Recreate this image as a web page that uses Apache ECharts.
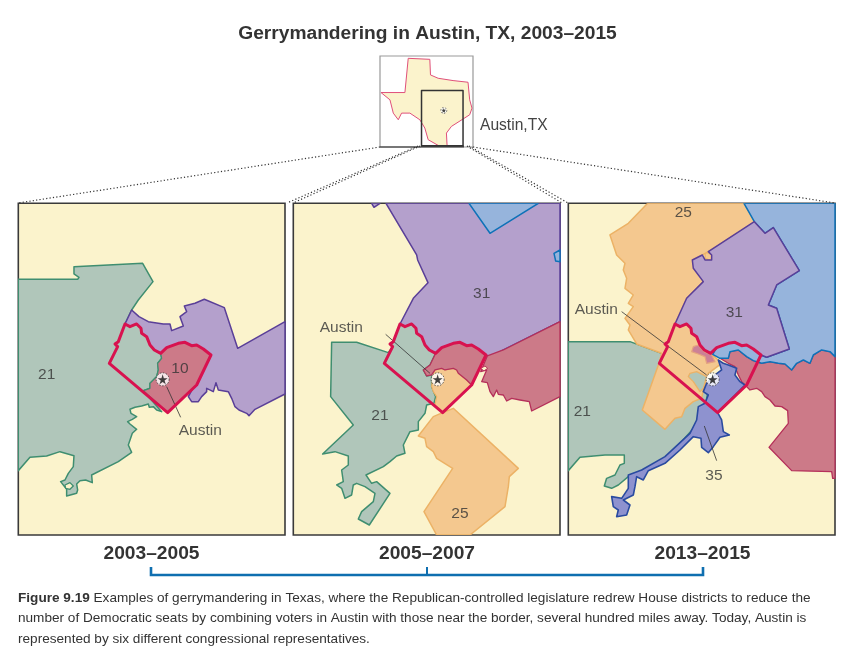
<!DOCTYPE html>
<html><head><meta charset="utf-8">
<style>html,body{margin:0;padding:0;background:#fff}#c{width:842px;height:656px}</style>
<script src="https://cdn.jsdelivr.net/npm/echarts@6/dist/echarts.min.js"></script>
</head><body><div id="c"></div>
<script>
// Shared Austin (Travis County) outline
const austinNorthEdge=[[330,372],[345,380],[365,372],[378,385],[380,400],[395,410],[405,435],[418,450],[437,460]];
const austinNorthEast=[[455,443],[490,430],[510,427],[530,437],[545,435],[565,447],[588,465]];
const austinSouth=[[545,555],[458,638],[283,490],[308,440],[300,432],[310,425]];
const austinOutline=[...austinNorthEdge,...austinNorthEast,...austinSouth];
const rev=a=>a.slice().reverse();

// Panel 1: 2003-2005
const p1d21=[[10,238],[188,238],[192,232],[177,222],[177,200],[383,190],[414,245],[370,300],[350,330],...austinNorthEdge,[440,475],[428,490],[430,510],[425,530],[405,550],[405,565],[385,572],[440,635],[425,630],[415,620],[403,622],[400,612],[380,618],[360,622],[345,628],[348,640],[365,650],[352,658],[338,665],[345,672],[365,688],[352,700],[340,735],[350,757],[310,785],[230,825],[232,848],[212,840],[195,842],[185,852],[188,870],[185,880],[155,888],[155,868],[137,845],[150,840],[160,820],[175,800],[177,767],[135,755],[95,768],[45,772],[10,812]];
const p1d10purple=[[350,330],[372,350],[400,365],[445,372],[465,372],[470,392],[505,378],[495,350],[515,335],[508,318],[540,310],[568,298],[628,323],[668,445],[810,365],[810,582],[720,628],[702,647],[695,640],[672,630],[660,620],[650,595],[640,575],[610,570],[603,548],[595,575],[575,565],[575,575],[560,590],[550,605],[530,605],[520,590],[588,465],...rev(austinNorthEast),...rev(austinNorthEdge)];
const p1d10=[[437,460],...austinNorthEast,[545,555],[458,638],[385,572],[405,565],[405,550],[425,530],[430,510],[428,490],[440,475]];
const p1hole=[[150,855],[165,848],[175,858],[165,868],[152,865]];

// Panel 2: 2005-2007
const p2d31=[[288,10],[810,10],[810,365],[640,450],[600,472],[588,465],...rev(austinNorthEast),...rev(austinNorthEdge),[370,295],[414,248],[383,180],[380,165]];
const p2d31b=[[245,10],[270,10],[252,22]];
const p2blue=[[537,10],[745,10],[600,100]];
const p2blue2=[[810,150],[792,160],[797,183],[810,185]];
const p2red=[[592,468],[640,450],[810,365],[810,590],[725,633],[718,605],[690,600],[665,595],[650,603],[640,585],[625,583],[620,570],[610,590],[600,575],[592,548],[575,545],[590,510],[572,515]];
const p2blob=[[572,505],[585,498],[593,505],[582,513]];
const p2redIn=[[437,460],...austinNorthEast,[545,555],[530,540],[505,520],[500,510],[490,505],[465,510],[455,505],[435,510],[425,525],[410,528],[400,510],[420,495]];
const p2d25in=[[428,530],[435,510],[455,505],[465,510],[490,505],[500,510],[505,520],[530,540],[545,555],[458,638],[435,615],[440,590],[430,575],[425,560]];
const p2d25=[[458,638],[490,625],[685,805],[658,830],[655,860],[645,920],[540,1005],[440,1005],[402,935],[488,805],[440,775],[430,755],[410,740],[405,715],[385,708],[430,650]];
const p2d21=[[125,427],[200,427],[295,458],[308,440],[300,432],[310,425],...austinNorthEdge,[420,495],[400,510],[410,528],[425,525],[425,560],[437,590],[432,610],[410,615],[405,640],[385,665],[385,690],[360,695],[340,735],[345,760],[320,768],[300,785],[280,800],[228,825],[245,850],[260,845],[300,880],[238,975],[205,957],[215,935],[250,905],[255,880],[225,860],[200,850],[190,855],[185,885],[165,895],[155,865],[140,855],[160,845],[155,810],[175,795],[175,768],[135,755],[98,762],[190,675],[122,590]];

// Panel 3: 2013-2015
const p3d21=[[10,425],[195,425],[290,460],[430,570],[420,620],[390,680],[300,780],[190,830],[160,855],[140,865],[118,858],[125,835],[150,825],[165,795],[178,790],[178,765],[120,765],[45,772],[10,812]];
const p3d25=[[248,10],[537,10],[570,65],[430,155],[385,180],[415,245],[365,295],...austinNorthEdge,[470,490],[430,520],[415,570],[410,595],[385,605],[360,625],[350,650],[330,655],[300,688],[232,630],[282,490],[290,460],[215,432],[190,390],[195,375],[180,355],[205,320],[190,310],[205,285],[180,265],[185,235],[175,210],[180,190],[155,165],[150,150],[135,105],[190,70]];
const p3d25hook=[[420,155],[442,165],[438,182],[420,175]];
const p3green=[[375,520],[395,515],[425,530],[415,565],[405,575],[385,545],[370,530]];
const p3blue=[[537,10],[810,10],[810,470],[795,455],[770,450],[745,465],[735,490],[715,480],[695,490],[680,510],[660,492],[640,490],[615,485],[590,490],[565,482],[545,470],[520,450],[495,455],[490,475],[465,475],[443,463],...austinNorthEast,[605,472],[673,447],[635,325],[610,315],[635,255],[703,212],[625,83],[600,100],[568,65]];
const p3d31=[[568,65],[600,100],[625,83],[703,212],[635,255],[610,315],[635,325],[673,447],[605,472],[588,465],...rev(austinNorthEast),...rev(austinNorthEdge),[365,295],[415,245],[385,205],[382,180],[412,165],[420,180],[440,180],[440,165],[430,155]];
const p3red=[[590,490],[615,485],[640,490],[660,492],[680,510],[695,490],[715,480],[735,490],[745,465],[770,450],[795,455],[810,470],[810,835],[803,835],[800,815],[680,812],[612,742],[670,670],[668,632],[650,620],[630,618],[615,600],[600,590],[590,575],[575,565],[555,570],[545,560],[530,545],[520,525],[510,500],[490,490],[465,475],[490,475],[495,455],[520,450],[545,470],[565,482]];
const p3pink=[[385,440],[400,435],[418,455],[440,465],[450,485],[425,490],[420,470],[400,462],[380,455]];
const p3d35=[[460,480],[475,490],[490,495],[515,505],[510,525],[525,545],[540,555],[458,638],[470,660],[475,695],[493,705],[465,712],[445,740],[430,758],[410,742],[408,715],[385,710],[345,750],[300,790],[250,812],[235,840],[215,830],[210,860],[205,885],[175,900],[195,915],[185,945],[155,950],[160,930],[145,920],[140,890],[170,895],[190,865],[190,825],[230,810],[300,770],[375,700],[395,660],[400,620],[420,610],[430,585],[415,575],[425,550],[450,525],[470,510]];

// Labels: [x, y, text]
const p1labels=[[95,525,'21'],[495,507,'10'],[556,692,'Austin']];
const p2labels=[[154,382,'Austin'],[575,282,'31'],[270,647,'21'],[510,942,'25']];
const p3labels=[[355,38,'25'],[94,328,'Austin'],[508,338,'31'],[52,635,'21'],[447,828,'35']];
const p1leaders=[[[455,560],[497,652]]];
const p2leaders=[[[287,403],[420,520]]];
const p3leaders=[[[170,335],[425,525]],[[418,678],[455,782]]];
const cityPoint=[[443,538]];

// Inset
const texas=[[115,25],[180,28],[182,75],[205,85],[250,92],[295,97],[300,150],[307,175],[300,195],[245,230],[230,250],[232,288],[210,290],[175,270],[165,235],[150,210],[120,190],[95,190],[85,210],[70,190],[60,150],[33,128],[105,128]];
const insetBox=[[155,122],[280,122],[280,288],[155,288]];
const insetCity=[[222,182]];

// Page level
const dottedLines=[[[380,147],[18,203]],[[418,146],[287,203]],[[420,146],[293,203]],[[467,146],[562,203]],[[469,146],[568,203]],[[473,147],[835,203]]];
const insetBaseLeft=[[380,147],[421,147]];
const insetBase=[[421,146.5],[464,146.5]];
const bracket=[[151,567],[151,575],[703,575],[703,567]];
const bracketMid=[[427,567],[427,575]];
const periods=['2003–2005','2005–2007','2013–2015'];
const periodX=[151.5,427,702.5];
const captionLines=['{b|Figure 9.19} Examples of gerrymandering in Texas, where the Republican-controlled legislature redrew House districts to reduce the','number of Democratic seats by combining voters in Austin with those near the border, several hundred miles away. Today, Austin is','represented by six different congressional representatives.'];

const C={cream:'#FBF3CC',g:'#B0C6BA',gs:'#3F8E70',p:'#B4A0CC',ps:'#5A3F98',r:'#CC7A88',rs:'#B5305A',o:'#F4C88F',os:'#ECB266',b:'#96B4DC',bs:'#0E72B8',d:'#8E92CF',ds:'#2A4BA0',red:'#D8124F'};
const FONT='"Liberation Sans",Arial,sans-serif';
const series=[];
function poly(pts,ax,fill,stroke,w,z){
  series.push({type:'custom',coordinateSystem:'cartesian2d',xAxisIndex:ax,yAxisIndex:ax,z:z||2,silent:true,clip:true,data:pts,
    renderItem(p,api){ if(p.dataIndex!==0) return null;
      return {type:'polygon',shape:{points:pts.map(q=>api.coord(q))},style:{fill,stroke,lineWidth:w,lineJoin:'round'}};}});
}
function line(pts,ax,stroke,w,dash,z){
  series.push({type:'custom',coordinateSystem:'cartesian2d',xAxisIndex:ax,yAxisIndex:ax,z:z||4,silent:true,data:pts,
    renderItem(p,api){ if(p.dataIndex!==0) return null;
      return {type:'polyline',shape:{points:pts.map(q=>api.coord(q))},style:{fill:null,stroke,lineWidth:w,lineDash:dash||null,lineCap:'butt'}};}});
}
function labels(list,ax,size){
  series.push({type:'scatter',xAxisIndex:ax,yAxisIndex:ax,z:9,silent:true,symbolSize:1,itemStyle:{color:'transparent'},
    data:list.map(d=>({value:[d[0],d[1]],name:d[2]})),
    label:{show:true,position:'inside',formatter:'{b}',fontFamily:FONT,fontSize:size,color:'#333'}});
}
const STAR='path://M50 0L61.8 36.2H100L69.1 58.5L80.9 95L50 72.5L19.1 95L30.9 58.5L0 36.2H38.2Z';
function city(pts,ax,r,s,bw){
  series.push({type:'scatter',xAxisIndex:ax,yAxisIndex:ax,z:7,silent:true,symbol:'circle',symbolSize:r,itemStyle:{color:'#fff',borderColor:'#333',borderWidth:bw,borderType:[1.5,1.5]},data:pts});
  series.push({type:'scatter',xAxisIndex:ax,yAxisIndex:ax,z:8,silent:true,symbol:STAR,symbolSize:s,itemStyle:{color:'#111'},data:pts});
}
// panel 1
poly(p1d21,0,C.g,C.gs,1.5);poly(p1hole,0,C.cream,C.gs,1.3);poly(p1d10purple,0,C.p,C.ps,1.5);poly(p1d10,0,C.r,C.gs,1.2);
poly(austinOutline,0,'none',C.red,3,5);p1leaders.forEach(l=>line(l,0,'#333',.8));city(cityPoint,0,13,10,1);labels(p1labels,0,15.5);
// panel 2
poly(p2d31b,1,C.p,C.ps,1.5);poly(p2d31,1,C.p,C.ps,1.5);poly(p2blue,1,C.b,C.bs,1.5);poly(p2blue2,1,C.b,C.bs,1.5);poly(p2red,1,C.r,C.rs,1.3);poly(p2blob,1,C.cream,C.rs,1);
poly(p2d25,1,C.o,C.os,1.5);poly(p2d21,1,C.g,C.gs,1.5);poly(p2d25in,1,C.o,C.os,1.2);poly(p2redIn,1,C.r,C.rs,1.3);
poly(austinOutline,1,'none',C.red,3,5);p2leaders.forEach(l=>line(l,1,'#333',.8));city(cityPoint,1,13,10,1);labels(p2labels,1,15.5);
// panel 3
poly(p3d21,2,C.g,C.gs,1.5);poly(p3d25hook,2,C.o,C.os,1.3);poly(p3d25,2,C.o,C.os,1.5);poly(p3green,2,C.g,C.os,1.3);poly(p3red,2,C.r,C.rs,1.3);poly(p3blue,2,C.b,C.bs,1.5);poly(p3d31,2,C.p,C.ps,1.5);poly(p3pink,2,'#CC8096','#E4A27F',1.2);poly(p3d35,2,C.d,C.ds,1.6);
poly(austinOutline,2,'none',C.red,3,5);p3leaders.forEach(l=>line(l,2,'#333',.8));city(cityPoint,2,13,10,1);labels(p3labels,2,15.5);
// inset
poly(texas,3,C.cream,'#E0507A',1);poly(insetBox,3,'none','#333',1.5,5);city(insetCity,3,6,5,.8);
// page
dottedLines.forEach(l=>line(l,4,'#333',1.2,[1.2,2.2]));
line(insetBaseLeft,4,'#222',1);line(insetBase,4,'#444',2);
line(bracket,4,'#0F6FB0',2.6);line(bracketMid,4,'#0F6FB0',2);

const panelGrid=l=>({left:l,top:203.3,width:266.7,height:331.7,show:true,backgroundColor:C.cream,borderColor:'#3a3a3a',borderWidth:1.6});
const grids=[panelGrid(18.3),panelGrid(293.3),panelGrid(568.3),{left:380,top:56,width:93,height:91,show:true,backgroundColor:'#fff',borderColor:'#999',borderWidth:1.2},{left:0,top:0,width:842,height:656,show:false}];
const xr=[[10,810],[10,810],[10,810],[30,310],[0,842]];
const yr=[[10,1005],[10,1005],[10,1005],[18,292],[0,656]];
const titles=[{text:'Gerrymandering in Austin, TX, 2003–2015',left:427.5,top:24.5,padding:0,textAlign:'center',textStyle:{fontFamily:FONT,fontSize:19.2,fontWeight:'bold',color:'#333'}},
 {text:'Austin,TX',left:480,top:118,padding:0,textStyle:{fontFamily:FONT,fontSize:15.6,fontWeight:'normal',color:'#444'}}];
periods.forEach((t,i)=>titles.push({text:t,left:periodX[i],top:544.5,padding:0,textAlign:'center',textStyle:{fontFamily:FONT,fontSize:19.2,fontWeight:'bold',color:'#333'}}));
captionLines.forEach((t,i)=>titles.push({text:t,left:18,top:591+i*20.4,padding:0,textStyle:{fontFamily:FONT,fontSize:13.6,fontWeight:'normal',color:'#333',rich:{b:{fontFamily:FONT,fontSize:13.6,fontWeight:'bold',color:'#333'}}}}));
const chart=echarts.init(document.getElementById('c'),null,{renderer:'canvas'});
chart.setOption({animation:false,backgroundColor:'#fff',title:titles,grid:grids,
 xAxis:xr.map((r,i)=>({type:'value',gridIndex:i,min:r[0],max:r[1],show:false})),
 yAxis:yr.map((r,i)=>({type:'value',gridIndex:i,min:r[0],max:r[1],inverse:true,show:false})),
 series});
</script></body></html>
